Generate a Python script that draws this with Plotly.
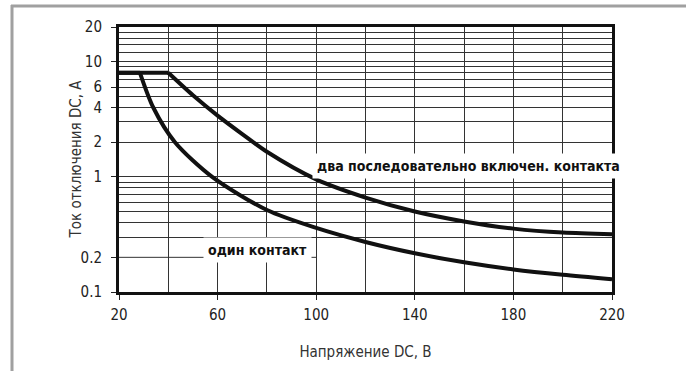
import plotly.graph_objects as go

# ---- data ----
volt_single = [20, 28.5, 33.9, 42.7, 57.8, 80, 100, 120, 140, 160, 180, 200, 220]
curr_single = [8, 8, 4.0, 2.0, 1.0, 0.515, 0.36, 0.272, 0.217, 0.181, 0.157, 0.141, 0.129]

volt_double = [20, 40, 50, 60, 70, 80, 100, 120, 140, 160, 180, 200, 220]
curr_double = [8, 8, 5.1, 3.4, 2.35, 1.65, 0.95, 0.66, 0.50, 0.41, 0.355, 0.328, 0.318]

x_tickvals = [20, 60, 100, 140, 180, 220]
y_tickvals = [0.1, 0.2, 1, 2, 4, 6, 10, 20]
y_ticktext = ["0.1", "0.2", "1", "2", "4", "6", "10", "20"]
y_grid = [20, 18, 16, 14, 12, 10, 9, 8, 7, 6, 5, 4, 3, 2, 1, 0.9, 0.8, 0.7, 0.6, 0.5, 0.4, 0.3]
partial_grid_y = 0.2
partial_grid_x = [20, 100]

label_single = "один контакт"
label_double = "два последовательно включен. контакта"
x_title = "Напряжение DC, В"
y_title = "Ток отключения DC, A"

FONT = "DejaVu Sans Condensed, Liberation Sans Narrow, sans-serif"
W, H = 686, 371
L, R, T, B = 119, 74, 27, 79
PW, PH = W - L - R, H - T - B

fig = go.Figure()

# each curve: flat segment (linear) up to the knee, then smooth falling segment
for xs, ys in [(volt_single, curr_single), (volt_double, curr_double)]:
    fig.add_trace(go.Scatter(x=xs[:2], y=ys[:2], mode="lines",
                             line=dict(color="#111", width=4),
                             hoverinfo="skip", showlegend=False))
    fig.add_trace(go.Scatter(x=xs[1:], y=ys[1:], mode="lines",
                             line=dict(color="#111", width=4, shape="spline", smoothing=0.8),
                             hoverinfo="skip", showlegend=False))

# partial gridline at 0.2
fig.add_shape(type="line", xref="x", yref="y", layer="below",
              x0=partial_grid_x[0], x1=partial_grid_x[1], y0=partial_grid_y, y1=partial_grid_y,
              line=dict(color="#333", width=1))

# outer gray frame (decoration)
def px_x(p):
    return (p - L) / PW

def px_y(p):
    return (H - B - p) / PH

fig.add_shape(type="line", xref="paper", yref="paper",
              x0=px_x(11), x1=px_x(W), y0=px_y(6), y1=px_y(6),
              line=dict(color="#a0a0a0", width=3))
fig.add_shape(type="line", xref="paper", yref="paper",
              x0=px_x(12), x1=px_x(12), y0=px_y(5), y1=px_y(H),
              line=dict(color="#a0a0a0", width=3))

fig.add_annotation(x=98.3, y=0.094, xref="x", yref="y", xanchor="left", yanchor="middle",
                   text="<b>" + label_double + "</b>", showarrow=False,
                   font=dict(family=FONT, size=14, color="#111"),
                   bgcolor="white", borderpad=4)
fig.add_annotation(x=76, y=-0.635, xref="x", yref="y", xanchor="center", yanchor="middle",
                   text="<b>" + label_single + "</b>", showarrow=False,
                   font=dict(family=FONT, size=14, color="#111"),
                   bgcolor="white", borderpad=4)

# y-axis title placed as rotated text
fig.add_annotation(x=px_x(75), y=0.5, xref="paper", yref="paper",
                   xanchor="center", yanchor="middle", textangle=-90,
                   text=y_title, showarrow=False,
                   font=dict(family=FONT, size=15, color="#333"))

fig.update_layout(
    width=W, height=H,
    margin=dict(l=L, r=R, t=T, b=B),
    paper_bgcolor="white", plot_bgcolor="white",
    font=dict(family=FONT, size=15, color="#222"),
    xaxis=dict(range=[20, 220], tickvals=x_tickvals, ticks="outside", ticklen=5,
               tickcolor="#222", tickwidth=1, showgrid=True, gridcolor="#333", gridwidth=1,
               minor=dict(tickmode="linear", tick0=20, dtick=20, showgrid=True,
                          gridcolor="#333", gridwidth=1, ticks=""),
               showline=True, linecolor="#111", linewidth=3, mirror=True,
               zeroline=False, ticklabelstandoff=2,
               title=dict(text=x_title, standoff=24, font=dict(size=15, color="#333"))),
    yaxis=dict(type="log", range=[-1, 1.30103], tickvals=y_tickvals, ticktext=y_ticktext,
               ticks="outside", ticklen=5, tickcolor="#222", tickwidth=1,
               showgrid=False,
               minor=dict(tickmode="array", tickvals=y_grid, showgrid=True,
                          gridcolor="#333", gridwidth=1, ticks=""),
               showline=True, linecolor="#111", linewidth=3, mirror=True,
               zeroline=False, ticklabelstandoff=6),
)

fig.write_html("out.html")
